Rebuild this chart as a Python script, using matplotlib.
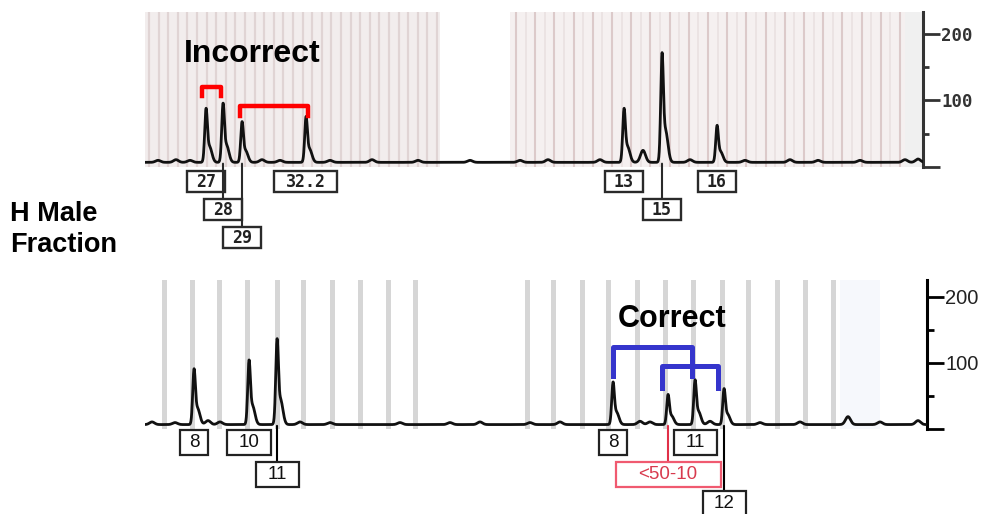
import numpy as np
import matplotlib.pyplot as plt
from matplotlib.path import Path

# Peaks: scan position, height (RFU), allele label, label row
top_pos = [206, 223, 242, 306, 624, 662, 717]
top_height = [80, 87, 62, 69, 80, 155, 57]
top_label = ['27', '28', '29', '32.2', '13', '15', '16']
top_row = [0, 1, 2, 0, 0, 1, 0]

bot_pos = [194, 249, 277, 613, 668, 695, 724]
bot_height = [82, 94, 123, 64, 47, 67, 55]
bot_label = ['8', '10', '11', '8', '<50-10', '11', '12']
bot_row = [0, 0, 1, 0, 1, 0, 2]
bot_flag = [False, False, False, False, True, False, False]

# small baseline bumps (position, height above baseline)
top_bump_pos = [158, 176, 190, 262, 280, 330, 372, 418, 470, 520, 548, 600, 643, 690, 745, 790, 818, 860, 905, 918]
top_bump_h = [3, 4, 3, 4, 3, 3, 4, 3, 3, 3, 4, 4, 18, 4, 3, 4, 3, 3, 4, 5]
bot_bump_pos = [152, 175, 208, 220, 300, 330, 400, 450, 480, 530, 560, 640, 650, 710, 760, 800, 848, 880, 918]
bot_bump_h = [4, 3, 6, 4, 4, 3, 3, 3, 4, 3, 4, 5, 4, 5, 3, 4, 12, 4, 6]

top_base = 7
bot_base = 6


def trace(x, pos, height, bpos, bh, base):
    y = np.full_like(x, base, dtype=float)
    for p, h in zip(pos, height):
        a = h - base
        y += a * np.exp(-0.5 * ((x - p) / 1.3) ** 2)
        y += 0.32 * a * np.exp(-0.5 * ((x - p - 3.5) / 2.4) ** 2)
    for p, h in zip(bpos, bh):
        y += h * np.exp(-0.5 * ((x - p) / 2.5) ** 2)
    return y


def fixed_box(w, h):
    # rectangle of fixed pixel size centred on the text
    def box(x0, y0, width, height, mutation_size):
        cx = x0 + width / 2
        cy = y0 + height / 2
        verts = [(cx - w / 2, cy - h / 2), (cx + w / 2, cy - h / 2),
                 (cx + w / 2, cy + h / 2), (cx - w / 2, cy + h / 2),
                 (cx - w / 2, cy - h / 2)]
        return Path(verts, closed=True)
    return box


fig = plt.figure(figsize=(10, 5.14), dpi=100)

# ---------- top panel ----------
ax1 = fig.add_axes([0.145, 0.6751, 0.778, 0.3016])
ax1.set_xlim(145, 923)
ax1.set_ylim(0, 233)

ax1.axvspan(145, 440, color='#f2eded', lw=0, zorder=0)
ax1.axvspan(510, 905, color='#f5f0f0', lw=0, zorder=0)
ax1.axvspan(905, 923, color='#f0f0f0', lw=0, zorder=0)
s = np.arange(149, 440, 9.6)
ax1.vlines(s, 0, 233, color='#e0d4d4', lw=1.6, zorder=1)
s = np.arange(516, 905, 9.6)
ax1.vlines(s[::2], 0, 233, color='#dccaca', lw=1.5, zorder=1)
ax1.vlines(s[1::2], 0, 233, color='#e9e1e1', lw=1.2, zorder=1)

x1 = np.linspace(145, 923, 4000)
ax1.plot(x1, trace(x1, top_pos, top_height, top_bump_pos, top_bump_h, top_base),
         color='#111111', lw=2.0, zorder=3)

for p, lab, r in zip(top_pos, top_label, top_row):
    dy = [-15, -43, -71][r]
    w = 12.5 * len(lab) + 13
    ax1.annotate(lab, xy=(p, top_base - 2), xycoords='data',
                 xytext=(0, dy - (top_base - 2) * 0.665), textcoords='offset pixels',
                 ha='center', va='center', fontsize=12, fontweight='bold',
                 family='DejaVu Sans Mono', color='#222222', annotation_clip=False,
                 bbox=dict(boxstyle=fixed_box(w, 21), fc='white', ec='#2a2a2a', lw=1.7),
                 arrowprops=None if r == 0 else dict(arrowstyle='-', color='#2a2a2a', lw=1.5,
                                                     shrinkA=0, shrinkB=0))

# red brackets over the wrong pairing
ax1.plot([top_pos[0] - 4, top_pos[0] - 4, top_pos[1] - 2, top_pos[1] - 2],
         [107, 120, 120, 107], color='red', lw=3.2, zorder=4, clip_on=False)
ax1.plot([top_pos[2] - 2, top_pos[2] - 2, top_pos[3] + 2, top_pos[3] + 2],
         [77, 92, 92, 77], color='red', lw=3.2, zorder=4, clip_on=False)

for sp in ['left', 'top', 'bottom']:
    ax1.spines[sp].set_visible(False)
ax1.spines['right'].set_linewidth(2.2)
ax1.spines['right'].set_color('#333333')
ax1.set_xticks([])
ax1.yaxis.tick_right()
ax1.set_yticks([0, 100, 200])
ax1.set_yticklabels(['', '100', '200'], family='DejaVu Sans Mono', fontweight='bold',
                    fontsize=12.5, color='#333333')
ax1.set_yticks([50, 150], minor=True)
ax1.tick_params(axis='y', which='major', length=12, width=2, pad=1, color='#333333')
ax1.tick_params(axis='y', which='minor', length=4, width=2, color='#333333')

# ---------- bottom panel ----------
ax2 = fig.add_axes([0.145, 0.1663, 0.782, 0.2889])
ax2.set_xlim(145, 927)
ax2.set_ylim(0, 225)

ax2.axvspan(840, 880, color='#f6f8fc', lw=0, zorder=0)
stripes = [165, 193, 220, 248, 277, 303, 332, 360, 388, 415,
           527, 553, 582, 608, 637, 665, 693, 722, 748, 777, 805, 833]
for sx in stripes:
    ax2.axvspan(sx - 2.5, sx + 2.5, color='#d6d6d6', lw=0, zorder=1)

x2 = np.linspace(145, 927, 4000)
ax2.plot(x2, trace(x2, bot_pos, bot_height, bot_bump_pos, bot_bump_h, bot_base),
         color='#111111', lw=2.0, zorder=3)

for p, lab, r, flag in zip(bot_pos, bot_label, bot_row, bot_flag):
    dy = [-14, -46, -75][r]
    w = 15.5 * len(lab) + 12
    col = '#e03048' if flag else 'black'
    ax2.annotate(lab, xy=(p, bot_base - 2), xycoords='data',
                 xytext=(0, dy - (bot_base - 2) * 0.66), textcoords='offset pixels',
                 ha='center', va='center', fontsize=13.5, family='Liberation Sans',
                 color='#d83a4e' if flag else '#111111', annotation_clip=False,
                 bbox=dict(boxstyle=fixed_box(w, 25), fc='white',
                           ec='#f05a70' if flag else '#222222', lw=1.6),
                 arrowprops=None if r == 0 else dict(arrowstyle='-', color=col, lw=1.5,
                                                     shrinkA=0, shrinkB=0))

# blue brackets over the right pairing
blue = '#3535cc'
ax2.plot([bot_pos[3], bot_pos[3], bot_pos[5] - 3, bot_pos[5] - 3],
         [79, 123, 123, 79], color=blue, lw=3.6, zorder=4, clip_on=False)
ax2.plot([bot_pos[4] - 6, bot_pos[4] - 6, bot_pos[6] - 6, bot_pos[6] - 6],
         [62, 94, 94, 62], color=blue, lw=3.6, zorder=4, clip_on=False)

for sp in ['left', 'top', 'bottom']:
    ax2.spines[sp].set_visible(False)
ax2.spines['right'].set_linewidth(2.2)
ax2.set_xticks([])
ax2.yaxis.tick_right()
ax2.set_yticks([0, 100, 200])
ax2.set_yticklabels(['', '100', '200'], family='Liberation Sans', fontsize=14.5,
                    color='#222222')
ax2.set_yticks([50, 150], minor=True)
ax2.tick_params(axis='y', which='major', length=12, width=2, pad=1)
ax2.tick_params(axis='y', which='minor', length=5, width=2)

# ---------- texts ----------
fig.text(0.184, 1 - 62 / 514, 'Incorrect', fontsize=23, fontweight='bold',
         family='Liberation Sans', va='baseline', ha='left')
fig.text(0.672, 1 - 327 / 514, 'Correct', fontsize=22, fontweight='bold',
         family='Liberation Sans', va='baseline', ha='center')
fig.text(0.010, 1 - 221 / 514, 'H Male', fontsize=19.5, fontweight='bold',
         family='Liberation Sans', va='baseline', ha='left')
fig.text(0.010, 1 - 252 / 514, 'Fraction', fontsize=19.5, fontweight='bold',
         family='Liberation Sans', va='baseline', ha='left')

fig.savefig('out.png', dpi=100)
